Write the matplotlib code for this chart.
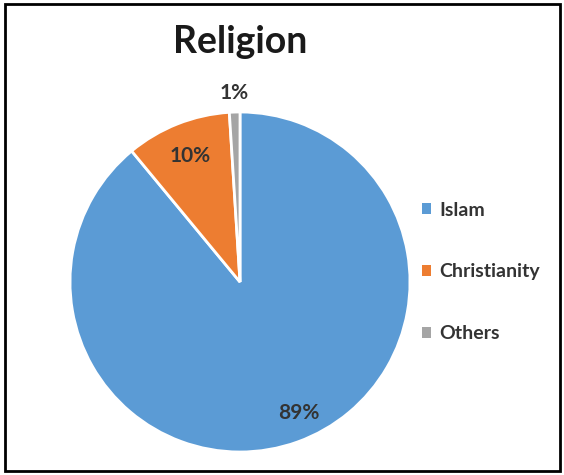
import matplotlib
matplotlib.use("Agg")
import matplotlib.pyplot as plt
from matplotlib.patches import Rectangle
import numpy as np

categories = ["Islam", "Christianity", "Others"]
values = [89, 10, 1]
colors = ["#5B9BD5", "#ED7D31", "#A5A5A5"]
label_dist = [0.82, 0.80, 1.11]

plt.rcParams['font.family'] = ['Lato', 'DejaVu Sans']

fig = plt.figure(figsize=(5.64, 4.75), dpi=100)
fig.patches.append(Rectangle((0.008, 0.008), 0.985, 0.984, transform=fig.transFigure,
                             fill=False, edgecolor='black', linewidth=2))

ax = fig.add_axes([240/564 - 170/564, 1 - 282/475 - 170/475, 340/564, 340/475])
wedges, _ = ax.pie(values, colors=colors, startangle=90, counterclock=False,
                   wedgeprops=dict(edgecolor='white', linewidth=2))
ax.set_xlim(-1, 1); ax.set_ylim(-1, 1)
ax.set_aspect('equal')
theta = 90.0
total = sum(values)
for i, (v, d) in enumerate(zip(values, label_dist)):
    ang = np.deg2rad(theta - 360 * v / total / 2)
    theta -= 360 * v / total
    x, y = d * np.cos(ang), d * np.sin(ang)
    if i == 0:
        x += 0.07
    ax.text(x, y, f"{v}%", ha='center', va='center',
            fontsize=15, fontweight='bold', color='#333333')

fig.text(240/564, 1 - 42/475, "Religion", ha='center', va='center',
         fontsize=27, fontweight='bold', color='#1a1a1a')

leg = fig.legend(wedges, categories, loc='center left', bbox_to_anchor=(412/564, 1 - 272/475),
                 frameon=False, fontsize=14, handlelength=0.5, handleheight=0.5,
                 handletextpad=0.4, labelspacing=2.3, borderpad=0)
for t in leg.get_texts():
    t.set_fontweight('bold'); t.set_color('#333333')
for h in leg.legend_handles:
    h.set_edgecolor('none')

fig.savefig("out.png", dpi=100)
